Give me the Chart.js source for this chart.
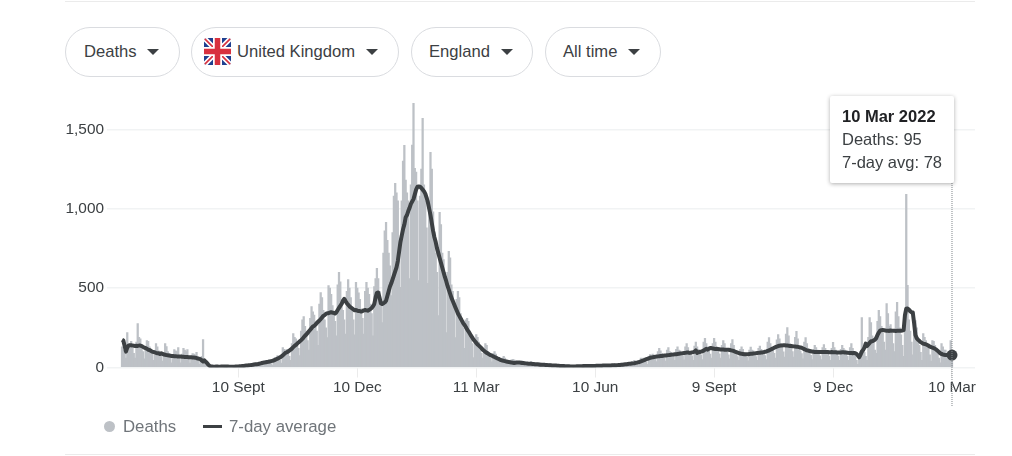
<!DOCTYPE html>
<html>
<head>
<meta charset="utf-8">
<title>Deaths</title>
<script src="https://cdn.jsdelivr.net/npm/chart.js@4"></script>
<style>
  html, body { margin: 0; padding: 0; background: #fff; }
  body { width: 1012px; height: 456px; position: relative; overflow: hidden;
         font-family: "Liberation Sans", Arial, sans-serif; color: #3c4043; }
  canvas { position: absolute; left: 0; top: 0; }
  .rule { position: absolute; left: 65px; width: 910px; height: 1px; background: #ebebeb; }
  .pill { position: absolute; top: 27px; height: 48px; border: 1px solid #dadce0; border-radius: 25px;
          box-sizing: content-box; line-height: 48px; font-size: 16.6px; color: #3c4043; background: #fff; }
  .pill span { position: absolute; top: 0; white-space: nowrap; }
  .pill i { position: absolute; top: 21px; width: 0; height: 0; border-left: 6.5px solid transparent;
            border-right: 6.5px solid transparent; border-top: 6.5px solid #3c4043; }
  .pill svg { position: absolute; left: 12px; top: 10px; border-radius: 3px; }
  #legend { position: absolute; left: 0; top: 417px; height: 20px; font-size: 16.8px; line-height: 20px; color: #70757a; }
  #legend span, #legend b { position: absolute; white-space: nowrap; font-weight: normal; }
  #tip { position: absolute; display: none; width: 124px; height: 87px; box-sizing: border-box; padding: 9px 0 0 12px;
         background: #fff; border-radius: 2px; box-shadow: 0 1px 4px rgba(0,0,0,.32);
         font-size: 16.5px; line-height: 23px; color: #3c4043; white-space: nowrap; }
  #tip b { color: #202124; }
</style>
</head>
<body>
<div class="rule" style="top:1px"></div>
<div class="rule" style="top:454px"></div>

<div class="pill" style="left:65px;width:113px"><span style="left:18px">Deaths</span><i style="left:81px"></i></div>
<div class="pill" style="left:191px;width:206px">
  <svg width="27" height="27" viewBox="0 0 27 27">
    <rect width="27" height="27" fill="#1f3f8f"/>
    <path d="M0 0L27 27M27 0L0 27" stroke="#fff" stroke-width="5"/>
    <path d="M0 0L27 27M27 0L0 27" stroke="#d8313f" stroke-width="1.6"/>
    <path d="M13.5 0V27M0 13.5H27" stroke="#fff" stroke-width="9"/>
    <path d="M13.5 0V27M0 13.5H27" stroke="#d8313f" stroke-width="5.5"/>
  </svg>
  <span style="left:45px">United Kingdom</span><i style="left:174px"></i></div>
<div class="pill" style="left:411px;width:120px"><span style="left:17px">England</span><i style="left:89px"></i></div>
<div class="pill" style="left:545px;width:114px"><span style="left:17px">All time</span><i style="left:82px"></i></div>

<canvas id="chart" width="1012" height="456"></canvas>

<div id="legend"></div>
<div id="tip"></div>

<script>
const seriesNames = ['Deaths', '7-day average'];
const tooltipNames = ['Deaths', '7-day avg'];
const tickLabels = ['10 Sept', '10 Dec', '11 Mar', '10 Jun', '9 Sept', '9 Dec', '10 Mar'];
const tickDays = [89, 180, 271, 362, 453, 544, 635];
const yTicks = [0, 500, 1000, 1500];

// one row per week
const deaths = [
  130,110,90,60,220,150,130,
  164,120,90,60,160,277,190,
  180,130,100,55,120,170,165,
  130,100,85,45,80,150,130,
  105,90,75,40,85,150,132,
  100,90,70,30,80,113,105,
  100,126,70,30,85,120,110,
  100,113,70,28,70,88,85,
  80,95,60,22,40,70,176,
  40,25,15,8,6,4,3,
  5,4,3,2,8,10,8,
  7,4,3,2,9,12,10,
  6,4,2,3,9,11,9,
  9,6,6,4,14,18,14,
  18,14,10,6,24,28,24,
  30,20,15,10,40,45,38,
  46,34,25,15,55,63,58,
  75,55,45,28,126,115,95,
  115,90,70,45,150,214,190,
  180,150,120,75,230,300,321,
  260,210,170,110,310,384,350,
  330,280,230,140,400,472,440,
  360,300,250,189,516,500,460,
  390,340,290,200,520,599,540,
  430,360,300,210,480,554,500,
  440,370,300,205,536,500,470,
  430,370,310,210,480,536,500,
  460,400,340,200,510,560,624,
  560,480,420,283,720,860,914,
  800,720,640,453,850,1080,1159,
  1100,1050,800,504,1050,1300,1399,
  1180,1100,1050,560,1150,1400,1664,
  1254,1230,1050,548,1080,1250,1569,
  1150,1050,880,530,1050,1355,1250,
  980,850,720,600,327,977,900,
  720,680,600,220,600,731,690,
  520,480,400,189,430,479,440,
  340,310,250,120,300,309,290,
  230,200,150,63,180,208,190,
  160,130,90,60,120,150,140,
  100,85,60,35,90,100,85,
  65,55,40,28,60,70,60,
  45,38,26,20,48,52,48,
  40,32,24,18,40,42,36,
  30,26,18,12,32,38,30,
  24,20,14,12,28,30,26,
  20,15,10,8,22,26,22,
  15,12,6,6,18,20,16,
  10,8,4,4,14,15,12,
  8,6,3,3,12,13,10,
  8,6,4,2,12,14,11,
  9,7,4,3,14,16,12,
  11,8,5,4,16,18,14,
  13,10,6,5,18,20,17,
  16,13,8,6,22,28,24,
  22,18,12,8,30,38,34,
  45,34,22,12,45,60,52,
  60,48,36,20,70,82,70,
  85,70,55,38,100,120,105,
  90,78,62,40,110,126,100,
  95,82,68,45,115,130,110,
  105,90,72,48,130,151,125,
  100,88,74,45,135,160,130,
  115,95,80,50,160,183,150,
  130,108,85,60,150,183,160,
  125,105,86,60,140,170,150,
  115,95,80,55,150,176,140,
  100,82,68,45,115,130,115,
  95,78,64,42,110,128,110,
  105,82,68,45,120,135,115,
  105,90,75,50,160,189,150,
  130,110,90,60,175,208,180,
  150,125,98,65,210,252,200,
  150,125,100,65,190,227,180,
  130,105,88,55,160,189,150,
  120,95,76,50,115,139,125,
  110,90,74,50,125,145,120,
  105,88,72,45,120,158,125,
  110,88,72,45,115,139,120,
  110,90,70,45,125,151,120,
  90,70,45,20,60,100,315,
  120,95,70,45,190,315,283,
  200,165,110,90,290,360,320,
  260,215,160,110,403,340,260,
  270,215,150,100,350,410,320,
  250,205,140,70,300,1090,517,
  300,230,160,80,240,296,250,
  180,140,95,45,214,190,170,
  150,120,80,40,170,165,140,
  120,90,60,30,151,130,110,
  110,80,50,60,170,95
];

const average = [
  175,170,135,100,125,138,140,
  140,138,137,136,137,136,138,
  138,135,130,125,122,118,112,
  110,105,100,98,95,92,90,
  90,85,90,86,82,80,78,
  77,75,74,73,72,71,71,
  70,70,69,69,68,67,66,
  66,66,65,64,64,63,63,
  62,60,56,55,52,45,38,
  45,36,28,18,10,7,6,
  5,5,6,6,5,5,6,
  6,6,7,7,6,5,5,
  5,5,5,6,6,7,8,
  8,9,10,11,12,13,14,
  15,16,17,19,20,21,22,
  24,26,28,30,32,33,35,
  36,38,40,42,44,48,52,
  56,60,64,70,76,84,92,
  96,100,106,112,120,128,136,
  142,150,158,165,172,180,190,
  200,208,218,228,238,248,258,
  262,270,280,288,296,305,315,
  325,330,338,342,342,345,348,
  345,345,340,348,362,375,388,
  400,420,432,418,405,395,385,
  378,372,366,360,362,358,355,
  355,352,355,360,362,360,358,
  362,368,375,385,400,440,470,
  472,440,405,400,405,410,420,
  450,480,510,530,555,580,605,
  630,670,730,790,830,870,900,
  945,960,985,1005,1030,1045,1060,
  1090,1120,1138,1140,1138,1130,1120,
  1110,1095,1070,1040,1000,960,910,
  860,820,790,750,720,690,660,
  630,600,570,545,515,490,465,
  440,420,400,380,360,340,325,
  310,295,280,268,255,240,228,
  215,200,188,175,165,155,145,
  138,130,122,112,105,98,92,
  88,82,78,74,70,66,62,
  58,55,50,47,44,42,40,
  38,36,34,33,31,30,29,
  30,31,32,31,30,29,28,
  27,26,25,24,24,23,22,
  22,21,20,20,19,18,18,
  18,17,16,16,15,14,14,
  13,13,12,12,11,11,10,
  10,9,9,8,8,8,8,
  7,7,7,7,7,8,8,
  8,8,8,9,9,9,9,
  9,9,10,10,10,10,11,
  11,11,11,11,12,12,12,
  12,12,13,13,14,14,15,
  14,15,16,16,17,18,19,
  20,21,22,23,24,25,26,
  27,29,31,33,36,39,42,
  45,48,52,55,58,61,63,
  64,66,67,69,70,71,72,
  73,74,75,76,77,78,79,
  80,81,82,83,84,85,86,
  88,89,90,91,92,94,95,
  92,93,95,97,100,108,92,
  96,98,100,102,106,112,118,
  112,118,122,122,120,118,116,
  118,116,115,114,113,113,112,
  112,112,112,110,108,106,104,
  100,97,94,90,88,86,85,
  84,84,84,84,85,86,87,
  88,89,90,91,92,93,94,
  95,97,99,101,104,108,112,
  116,120,124,128,132,135,137,
  138,139,140,140,139,138,137,
  136,135,134,133,132,131,130,
  128,126,124,120,116,112,108,
  106,104,102,100,99,98,97,
  97,97,98,98,98,98,98,
  97,97,96,96,97,96,96,
  96,95,95,95,95,96,96,
  95,94,93,92,92,92,90,
  92,90,85,75,65,80,100,
  110,125,150,135,145,155,165,
  165,170,175,185,205,220,232,
  235,236,235,233,232,232,230,
  233,232,232,231,230,231,232,
  232,232,233,235,330,370,372,
  365,355,348,346,280,205,185,
  175,168,160,155,150,148,145,
  142,138,132,128,125,122,118,
  112,105,98,90,85,82,80,
  78,79,80,79,78,78
];

// one label per day, counted from the first day of the series
const days = deaths.map((v, i) => i);
const dates = days.map(i => new Date(Date.UTC(2020, 5, 13 + i)).toLocaleDateString('en-GB',
  { day: 'numeric', month: 'short', year: 'numeric', timeZone: 'UTC' }));
const last = days.length - 1;

const barColor = '#bdc1c6';
const lineColor = '#3c4043';

const legend = document.getElementById('legend');
legend.innerHTML =
  '<b style="left:104px;top:4px;width:11px;height:11px;border-radius:50%;background:' + barColor + '"></b>' +
  '<span style="left:123px">' + seriesNames[0] + '</span>' +
  '<b style="left:203px;top:8px;width:19px;height:3px;background:' + lineColor + '"></b>' +
  '<span style="left:229px">' + seriesNames[1] + '</span>';

function drawTip(context) {
  const t = context.tooltip;
  const tip = document.getElementById('tip');
  if (!t.dataPoints || !t.dataPoints.length) { tip.style.display = 'none'; return; }
  tip.innerHTML = '<b>' + t.title[0] + '</b><br>' + t.body.map(b => b.lines[0]).join('<br>');
  tip.style.left = '830px';
  tip.style.top = '96px';
  tip.style.display = 'block';
}

// dotted guide under the hovered day
const guide = {
  id: 'guide',
  afterDatasetsDraw(chart) {
    const x = chart.scales.x.getPixelForValue(last);
    const c = chart.ctx;
    c.save();
    c.strokeStyle = '#80868b';
    c.lineWidth = 1;
    c.setLineDash([1, 1]);
    c.beginPath();
    c.moveTo(x, 97);
    c.lineTo(x, 406);
    c.stroke();
    c.restore();
  }
};

const chart = new Chart(document.getElementById('chart'), {
  type: 'bar',
  data: {
    labels: days,
    datasets: [{
      label: seriesNames[0],
      data: deaths,
      backgroundColor: barColor,
      borderWidth: 0,
      barThickness: 1.6,
      order: 2
    }, {
      type: 'line',
      label: seriesNames[1],
      data: average,
      borderColor: lineColor,
      backgroundColor: lineColor,
      borderWidth: 4,
      borderJoinStyle: 'round',
      tension: 0,
      fill: false,
      pointRadius: ctx => ctx.dataIndex === last ? 5.5 : 0,
      pointBorderWidth: 0,
      pointBackgroundColor: lineColor,
      order: 1
    }]
  },
  plugins: [guide],
  options: {
    responsive: false,
    animation: false,
    events: [],
    layout: { padding: { top: 97.5, right: 37, left: 0, bottom: 0 } },
    plugins: {
      legend: { display: false },
      title: { display: false },
      tooltip: {
        enabled: false,
        external: drawTip,
        callbacks: {
          title: items => dates[items[0].dataIndex],
          label: item => tooltipNames[item.datasetIndex] + ': ' + item.parsed.y
        }
      }
    },
    scales: {
      x: {
        type: 'linear',
        min: -11.5,
        max: 652.6,
        offset: false,
        afterBuildTicks: s => { s.ticks = tickDays.map(v => ({ value: v })); },
        afterFit: s => { s.height = 88.5; },
        border: { display: false },
        grid: { offset: false, drawOnChartArea: false, drawTicks: true, tickLength: 10, tickColor: '#ebebeb', lineWidth: 1 },
        ticks: {
          autoSkip: false,
          maxRotation: 0,
          padding: 1,
          color: '#3c4043',
          font: { family: '"Liberation Sans"', size: 15.4 },
          callback: (v, i) => tickLabels[i]
        }
      },
      y: {
        min: 0,
        max: 1700,
        afterBuildTicks: s => { s.ticks = yTicks.map(v => ({ value: v })); },
        afterFit: s => { s.width = 107; },
        border: { display: false },
        grid: { color: '#f1f3f4', lineWidth: 1.5, drawTicks: false },
        ticks: {
          padding: 3,
          color: '#3c4043',
          font: { family: '"Liberation Sans"', size: 15.4 }
        }
      }
    }
  }
});

chart.tooltip.setActiveElements([{ datasetIndex: 0, index: last }, { datasetIndex: 1, index: last }], { x: 953, y: 354 });
</script>
</body>
</html>
